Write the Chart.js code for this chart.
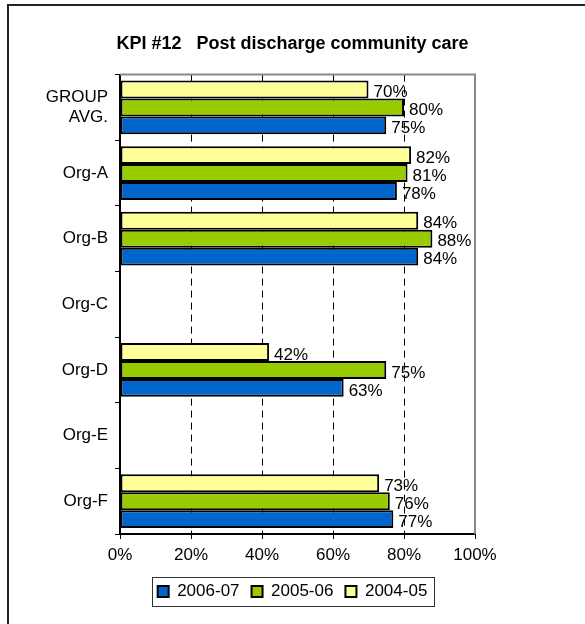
<!DOCTYPE html>
<html lang="en">

<head>
    <meta charset="UTF-8">
    <title>KPI #12 Post discharge community care</title>
    <script src="https://cdn.jsdelivr.net/npm/chart.js"></script>
    <style>
        html, body {
            margin: 0;
            padding: 0;
            background: #fff;
        }

        #wrap {
            width: 585px;
            height: 624px;
        }
    </style>
</head>

<body>
    <div id="wrap"><canvas id="kpiChart" width="585" height="624"></canvas></div>
    <script>
        // chart data
        const organisations = [['GROUP', 'AVG.'], 'Org-A', 'Org-B', 'Org-C', 'Org-D', 'Org-E', 'Org-F'];
        const years = ['2004-05', '2005-06', '2006-07'];
        const values0405 = [70, 82, 84, null, 42, null, 73];
        const values0506 = [80, 81, 88, null, 75, null, 76];
        const values0607 = [75, 78, 84, null, 63, null, 77];
        const xTicks = [0, 20, 40, 60, 80, 100];
        const barColors = ['#FFFF99', '#99CC00', '#0066CC'];

        const fontName = '"Liberation Sans", Arial, sans-serif';

        // value labels to the right of each bar
        const valueLabels = {
            id: 'valueLabels',
            afterDatasetsDraw(chart) {
                const ctx = chart.ctx;
                ctx.save();
                ctx.font = '17px ' + fontName;
                ctx.fillStyle = '#000';
                ctx.textAlign = 'left';
                ctx.textBaseline = 'middle';
                chart.data.datasets.forEach((ds, i) => {
                    chart.getDatasetMeta(i).data.forEach((bar, j) => {
                        if (ds.data[j] == null) return;
                        ctx.fillText(ds.data[j] + '%', bar.x + 5, bar.y + 3);
                    });
                });
                ctx.restore();
            }
        };

        // grey top/right edge of plot area, outer frame, legend box
        const frame = {
            id: 'frame',
            beforeDatasetsDraw(chart) {
                const { ctx, chartArea: a } = chart;
                ctx.save();
                ctx.strokeStyle = '#888';
                ctx.lineWidth = 2;
                ctx.beginPath();
                ctx.moveTo(a.left, a.top);
                ctx.lineTo(a.right, a.top);
                ctx.lineTo(a.right, a.bottom);
                ctx.stroke();
                ctx.restore();
            },
            afterDraw(chart) {
                const ctx = chart.ctx;
                ctx.save();
                ctx.strokeStyle = '#222';
                ctx.lineWidth = 2;
                ctx.beginPath();
                ctx.moveTo(8, 624);
                ctx.lineTo(8, 5);
                ctx.lineTo(585, 5);
                ctx.stroke();

                const boxes = chart.legend.legendHitBoxes;
                if (boxes && boxes.length) {
                    const left = Math.min(...boxes.map(b => b.left)) - 6;
                    const right = Math.max(...boxes.map(b => b.left + b.width)) + 6;
                    const top = Math.min(...boxes.map(b => b.top)) - 6;
                    const bottom = Math.max(...boxes.map(b => b.top + b.height)) + 6;
                    ctx.strokeStyle = '#333';
                    ctx.lineWidth = 1;
                    ctx.strokeRect(Math.round(left) + 0.5, Math.round(top) + 0.5, Math.round(right - left), Math.round(bottom - top));
                }
                ctx.restore();
            }
        };

        new Chart(document.getElementById('kpiChart'), {
            type: 'bar',
            data: {
                labels: organisations,
                datasets: [
                    { label: years[0], data: values0405, backgroundColor: barColors[0] },
                    { label: years[1], data: values0506, backgroundColor: barColors[1] },
                    { label: years[2], data: values0607, backgroundColor: barColors[2] }
                ].map(ds => Object.assign(ds, {
                    borderColor: '#000',
                    borderWidth: 2,
                    borderSkipped: false,
                    categoryPercentage: 0.82,
                    barPercentage: 1.0
                }))
            },
            options: {
                indexAxis: 'y',
                responsive: false,
                animation: false,
                devicePixelRatio: 1,
                layout: {
                    padding: { left: 0, right: 0, top: 0, bottom: 14 }
                },
                scales: {
                    x: {
                        min: 0,
                        max: 100,
                        afterBuildTicks: scale => {
                            scale.ticks = xTicks.map(v => ({ value: v }));
                        },
                        afterFit: scale => {
                            scale.height = 37;
                        },
                        ticks: {
                            color: '#000',
                            font: { family: fontName, size: 17 },
                            padding: 6,
                            callback: v => v + '%'
                        },
                        grid: {
                            color: c => (c.tick && c.tick.value === 100) ? '#888' : '#000',
                            lineWidth: 1,
                            tickBorderDash: [],
                            tickColor: '#000',
                            tickLength: 5
                        },
                        border: { color: '#000', width: 2, dash: [7, 5] }
                    },
                    y: {
                        afterFit: scale => {
                            scale.width = 120;
                        },
                        ticks: {
                            color: '#000',
                            font: { family: fontName, size: 17 },
                            padding: 7
                        },
                        grid: {
                            offset: true,
                            drawOnChartArea: false,
                            color: '#000',
                            tickLength: 5
                        },
                        border: { color: '#000', width: 2 }
                    },
                    // empty right-hand strip so the plot ends at 100% like the original
                    yRight: {
                        type: 'category',
                        axis: 'y',
                        position: 'right',
                        afterFit: scale => {
                            scale.width = 110;
                        },
                        ticks: { display: false },
                        grid: { display: false },
                        border: { display: false }
                    }
                },
                plugins: {
                    title: {
                        display: true,
                        text: 'KPI #12   Post discharge community care',
                        color: '#000',
                        font: { family: fontName, size: 18, weight: 'bold', lineHeight: 1.2 },
                        padding: { top: 33, bottom: 20 }
                    },
                    legend: {
                        position: 'bottom',
                        reverse: true,
                        labels: {
                            color: '#000',
                            font: { family: fontName, size: 17 },
                            boxWidth: 11,
                            boxHeight: 11,
                            padding: 12,
                            useBorderRadius: false
                        }
                    },
                    tooltip: { enabled: false }
                }
            },
            plugins: [valueLabels, frame]
        });
    </script>
</body>

</html>
